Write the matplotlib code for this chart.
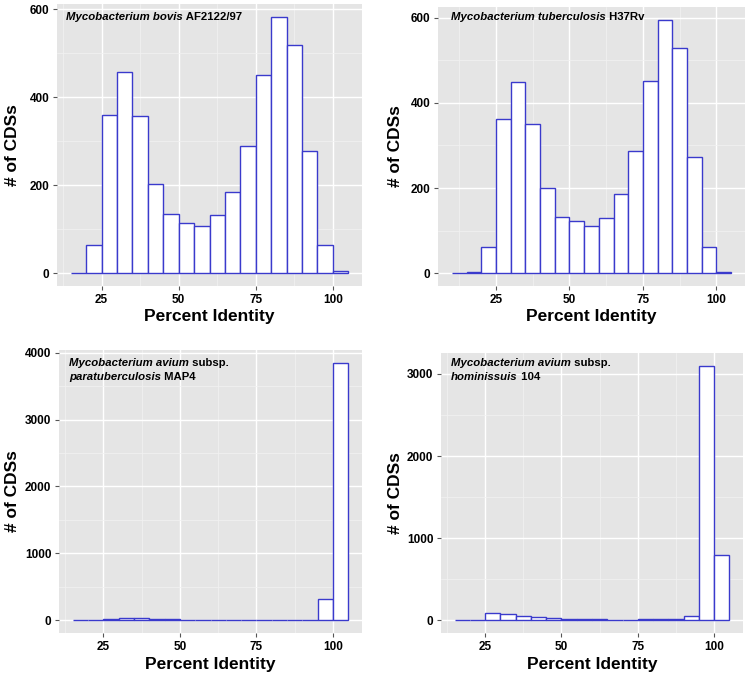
import numpy as np
import matplotlib.pyplot as plt

plt.rcParams['font.family'] = ['Liberation Sans', 'DejaVu Sans']

# bin left edges (5% wide bins) and counts for each genome
edges_a = [15, 20, 25, 30, 35, 40, 45, 50, 55, 60, 65, 70, 75, 80, 85, 90, 95, 100]
bovis = [0, 65, 360, 458, 358, 203, 135, 113, 108, 132, 185, 290, 450, 583, 520, 277, 63, 4]

edges_b = [10, 15, 20, 25, 30, 35, 40, 45, 50, 55, 60, 65, 70, 75, 80, 85, 90, 95, 100]
tuberc = [0, 2, 62, 362, 448, 350, 200, 133, 123, 112, 130, 185, 288, 450, 595, 528, 273, 62, 4]

para = [0, 2, 10, 25, 25, 15, 10, 5, 5, 3, 2, 1, 1, 1, 1, 2, 318, 3850]
homin = [0, 8, 86, 73, 57, 40, 22, 18, 14, 20, 8, 9, 10, 10, 18, 57, 3100, 790]

panels = [
    # (edges, counts, label lines, yticks, axes rect px, label offset px)
    (edges_a, bovis, [("Mycobacterium bovis", " AF2122/97")],
     [0, 200, 400, 600], (57, 4, 362, 286), (9, 13)),
    (edges_b, tuberc, [("Mycobacterium tuberculosis", " H37Rv")],
     [0, 200, 400, 600], (438, 7, 745, 286), (13, 10)),
    (edges_a, para, [("Mycobacterium avium", " subsp."), ("paratuberculosis", " MAP4")],
     [0, 1000, 2000, 3000, 4000], (59, 350, 362, 633), (10, 13)),
    (edges_a, homin, [("Mycobacterium avium", " subsp."), ("hominissuis", " 104")],
     [0, 1000, 2000, 3000], (441, 353, 743, 633), (10, 10)),
]

W, H = 750, 674
fig = plt.figure(figsize=(7.5, 6.74), dpi=100)

for edges, counts, lines, yticks, (l, t, r, b), (dx, dy) in panels:
    ax = fig.add_axes([l / W, 1 - b / H, (r - l) / W, (b - t) / H])
    ax.set_facecolor('#e5e5e5')
    ax.bar(edges, counts, width=5, align='edge', color='white',
           edgecolor='#3a3acc', linewidth=1.0, zorder=3)
    lo, hi = edges[0], edges[-1] + 5
    pad = (hi - lo) * 0.05
    ax.set_xlim(lo - pad, hi + pad)
    ymax = max(counts)
    ax.set_ylim(-ymax * 0.05, ymax * 1.05)
    ax.set_xticks([25, 50, 75, 100])
    ax.set_yticks(yticks)
    step = yticks[1] - yticks[0]
    ax.set_xticks(np.arange(12.5, 110, 25), minor=True)
    ax.set_yticks(np.arange(step / 2, ymax * 1.05, step), minor=True)
    ax.grid(True, which='major', color='white', linewidth=1.0, zorder=0)
    ax.grid(True, which='minor', color='#f2f2f2', linewidth=0.5, zorder=0)
    ax.set_axisbelow(True)
    for s in ax.spines.values():
        s.set_visible(False)
    ax.tick_params(which='major', length=3, color='#555555', labelsize=8.5,
                   labelcolor='black', pad=2.5)
    ax.tick_params(which='minor', length=0)
    for lab in ax.get_xticklabels() + ax.get_yticklabels():
        lab.set_fontweight('bold')
    ax.set_xlabel('Percent Identity', fontsize=12.5, fontweight='bold')
    ax.set_ylabel('# of CDSs', fontsize=12.5, fontweight='bold')
    ax.xaxis.label.set_va('center')
    ax.yaxis.label.set_va('center')
    ax.xaxis.set_label_coords(0.5, -31 / (b - t))
    ylab_x = 395 if l > 375 else 13
    ax.yaxis.set_label_coords((ylab_x - l) / (r - l), 0.5)

    # species label, mixed italic / regular bold
    for i, (it, pl) in enumerate(lines):
        t1 = ax.annotate(it, xy=(0, 1), xycoords='axes fraction',
                         xytext=(dx, -dy - 14 * i), textcoords='offset pixels',
                         fontsize=8.2, fontweight='bold', fontstyle='italic',
                         va='center', ha='left')
        ax.annotate(pl, xy=(1, 0), xycoords=t1, va='bottom', ha='left',
                    fontsize=8.2, fontweight='bold')

fig.savefig('out.png', dpi=100)
